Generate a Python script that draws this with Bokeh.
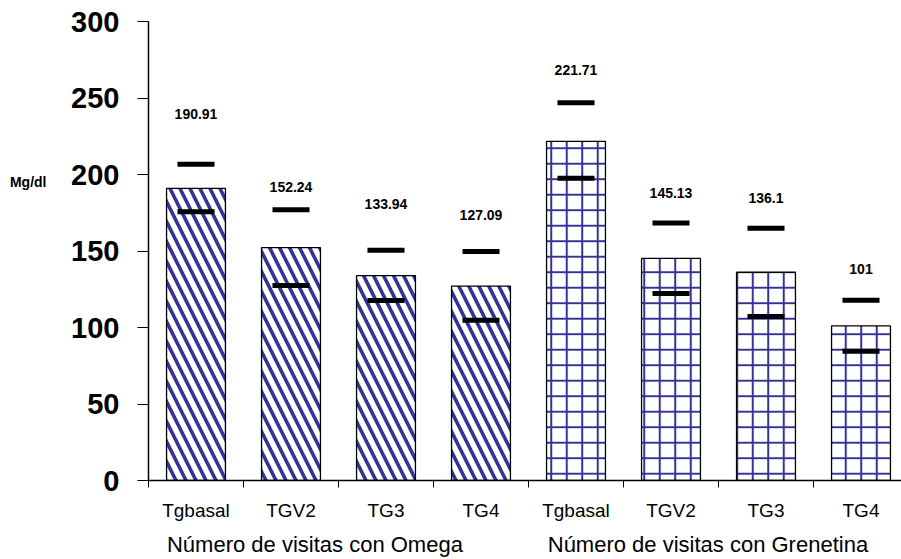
from bokeh.plotting import figure
from bokeh.models import Range1d, FixedTicker, ColumnDataSource, LinearAxis
from bokeh.core.properties import value
from bokeh.embed import file_html
from bokeh.resources import INLINE

# ---------------- data ----------------
categories = ["Tgbasal", "TGV2", "TG3", "TG4", "Tgbasal", "TGV2", "TG3", "TG4"]
groups = ["Omega", "Omega", "Omega", "Omega",
          "Grenetina", "Grenetina", "Grenetina", "Grenetina"]
means = [190.91, 152.24, 133.94, 127.09, 221.71, 145.13, 136.1, 101]
upper = [206.7, 176.9, 150.5, 149.6, 246.9, 168.3, 164.8, 117.8]
lower = [175.6, 127.5, 117.6, 104.7, 197.5, 122.3, 107.2, 84.5]
value_labels = ["190.91", "152.24", "133.94", "127.09",
                "221.71", "145.13", "136.1", "101"]
label_y = [239.3, 191.7, 180.8, 173.7, 268.4, 187.8, 184.5, 138.4]
group_titles = {"Omega": "Número de visitas  con Omega",
                "Grenetina": "Número de visitas  con Grenetina"}
y_ticks = [0, 50, 100, 150, 200, 250, 300]
y_title = "Mg/dl"

# ---------------- styles ----------------
FONT = "Liberation Sans"
hatch_style = {"Omega": dict(pattern="left_diagonal_line", scale=20, weight=3.6),
               "Grenetina": dict(pattern="cross", scale=15.5, weight=2.0)}
# horizontal offset (px) of each group title centre from its group's left boundary
title_center_px = {"Omega": 169.5, "Grenetina": 182.5}
y_title_level = 195  # y value where the unit label sits

W, H = 901, 559
LEFT, RIGHT, TOP, BOTTOM = 148, 0, 21, 77
frame_w = W - LEFT - RIGHT
frame_h = H - TOP - BOTTOM
cat_px = 95.0
x_start = 0.5
x_end = x_start + frame_w / cat_px

xs = list(range(1, len(categories) + 1))
bar_w = 0.62
dash_half = 0.195

src = ColumnDataSource(dict(
    x=xs, top=means,
    hatch=[hatch_style[g]["pattern"] for g in groups],
    hscale=[hatch_style[g]["scale"] for g in groups],
    hweight=[hatch_style[g]["weight"] for g in groups],
    x0=[x - dash_half for x in xs], x1=[x + dash_half for x in xs],
    up=upper, lo=lower, ly=label_y, lab=value_labels,
))

p = figure(width=W, height=H, x_range=Range1d(x_start, x_end), y_range=Range1d(0, 300),
           output_backend="svg", toolbar_location=None,
           min_border_left=LEFT, min_border_right=RIGHT,
           min_border_top=TOP, min_border_bottom=BOTTOM)
p.outline_line_color = None
p.xgrid.grid_line_color = None
p.ygrid.grid_line_color = None
p.background_fill_color = "white"
p.border_fill_color = "white"

p.vbar(x="x", top="top", bottom=0, width=bar_w, source=src,
       fill_color="white", line_color="black", line_width=1.3,
       hatch_pattern="hatch", hatch_color="#333399",
       hatch_scale="hscale", hatch_weight="hweight")

p.segment(x0="x0", x1="x1", y0="up", y1="up", source=src,
          line_color="black", line_width=5, line_cap="butt")
p.segment(x0="x0", x1="x1", y0="lo", y1="lo", source=src,
          line_color="black", line_width=5, line_cap="butt")

p.text(x="x", y="ly", text="lab", source=src,
       text_font=value(FONT), text_font_style="bold", text_font_size="14px",
       text_align="center", text_baseline="middle", text_color="black")

# y axis
ya = p.yaxis[0]
ya.ticker = FixedTicker(ticks=y_ticks)
ya.major_label_text_font = FONT
ya.major_label_text_font_style = "bold"
ya.major_label_text_font_size = "29px"
ya.major_label_text_color = "black"
ya.major_tick_out = 11
ya.major_tick_in = 0
ya.minor_tick_out = 0
ya.minor_tick_in = 0
ya.major_label_standoff = 18
ya.axis_line_width = 1.5
ya.axis_line_color = "black"
ya.major_tick_line_color = "black"

# unit label as an extra left axis
ua = LinearAxis(ticker=FixedTicker(ticks=[y_title_level]),
                major_label_overrides={y_title_level: y_title})
ua.axis_line_color = None
ua.major_tick_line_color = None
ua.minor_tick_line_color = None
ua.major_tick_out = 0
ua.major_tick_in = 0
ua.minor_tick_out = 0
ua.minor_tick_in = 0
ua.major_label_standoff = 22
ua.major_label_text_font = FONT
ua.major_label_text_font_style = "bold"
ua.major_label_text_font_size = "14px"
ua.major_label_text_color = "black"
p.add_layout(ua, "left")

# x axis
xa = p.xaxis[0]
xa.ticker = FixedTicker(ticks=xs, minor_ticks=[x - 0.5 for x in xs] + [xs[-1] + 0.5])
xa.major_label_overrides = {x: c for x, c in zip(xs, categories)}
xa.major_label_text_font = FONT
xa.major_label_text_font_size = "19px"
xa.major_label_text_color = "black"
xa.major_tick_out = 0
xa.major_tick_in = 0
xa.minor_tick_out = 7
xa.minor_tick_in = 0
xa.minor_tick_line_color = "black"
xa.major_label_standoff = 12
xa.axis_line_width = 1.5
xa.axis_line_color = "black"

# group titles as a second x axis below the category labels
group_order = []
for g in groups:
    if g not in group_order:
        group_order.append(g)
title_ticks = []
title_over = {}
for g in group_order:
    first = groups.index(g)
    t = xs[first] - 0.5 + title_center_px[g] / cat_px
    title_ticks.append(t)
    title_over[t] = group_titles[g]
ga = LinearAxis(ticker=FixedTicker(ticks=title_ticks), major_label_overrides=title_over)
ga.axis_line_color = None
ga.major_tick_line_color = None
ga.minor_tick_line_color = None
ga.major_tick_out = 0
ga.major_tick_in = 0
ga.minor_tick_out = 0
ga.minor_tick_in = 0
ga.major_label_standoff = 8
ga.major_label_text_font = FONT
ga.major_label_text_font_size = "22px"
ga.major_label_text_color = "black"
p.add_layout(ga, "below")

open("out.html", "w").write(file_html(p, INLINE))
